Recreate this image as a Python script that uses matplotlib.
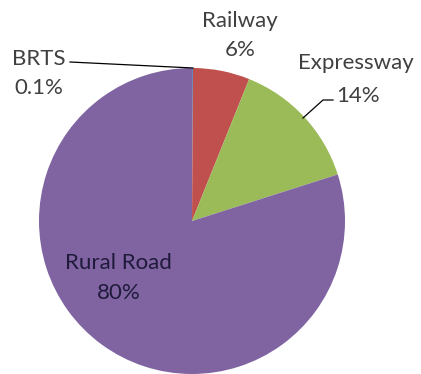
import matplotlib.pyplot as plt

categories = ["BRTS", "Railway", "Expressway", "Rural Road"]
shares = [0.1, 6, 14, 80]
colors = ["#4F81BD", "#C0504D", "#9BBB59", "#8064A2"]

W, H = 421, 374
fig = plt.figure(figsize=(W / 100, H / 100), dpi=100)
ax = fig.add_axes([0, 0, 1, 1])

def py(y):
    # pixel row from top -> data y
    return H - y

cx, cy, r = 192, py(221), 153
ax.pie(shares, colors=colors, startangle=90, counterclock=False,
       center=(cx, cy), radius=r, frame=True,
       wedgeprops=dict(linewidth=0))
ax.set_xlim(0, W)
ax.set_ylim(0, H)
ax.set_aspect("equal")
ax.axis("off")

# chart title, sitting mostly above the top edge
fig.text(0.5 - 34 / W, 1 + 9 / H, "Length of Road (km)", ha="center",
         va="baseline", fontsize=31, fontweight="bold",
         family="Liberation Sans", color="black")

font = dict(fontsize=16, family="Lato", color="#404040")
inner = dict(fontsize=16, family="Lato", color="#1f1a3a")
pct = [f"{v:g}%" for v in shares]

ax.text(39, py(59), categories[0], ha="center", va="center", **font)
ax.text(39, py(88), pct[0], ha="center", va="center", **font)
ax.plot([70, 193], [py(62), py(68)], color="black", lw=0.9)

ax.text(240, py(21), categories[1], ha="center", va="center", **font)
ax.text(240, py(50), pct[1], ha="center", va="center", **font)

ax.text(356, py(63), categories[2], ha="center", va="center", **font)
ax.text(358, py(96), pct[2], ha="center", va="center", **font)
ax.plot([333, 323, 303], [py(100), py(100), py(118)], color="black", lw=0.9)

ax.text(118, py(263), categories[3], ha="center", va="center", **inner)
ax.text(119, py(293), pct[3], ha="center", va="center", **inner)

fig.savefig("out.png", dpi=100)
